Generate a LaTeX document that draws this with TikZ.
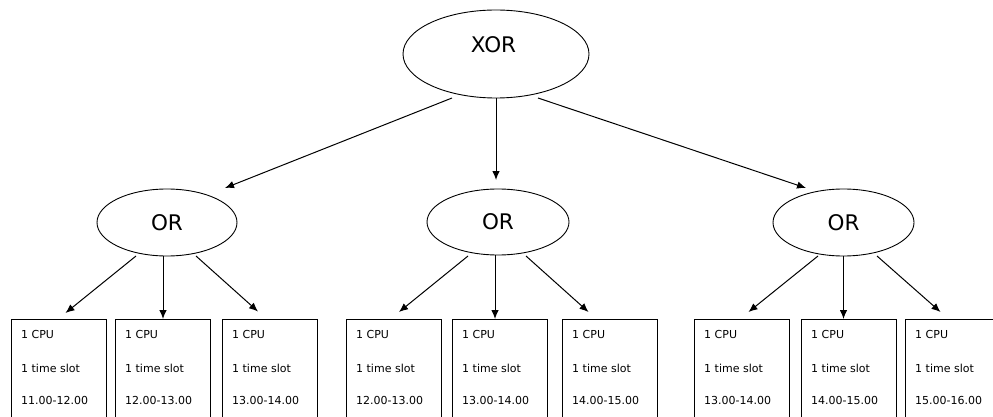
\documentclass[tikz,border=0pt]{standalone}
\usepackage{fontspec}
\setmainfont{DejaVu Sans}
\usetikzlibrary{arrows.meta,shapes.geometric}
\begin{document}
\begin{tikzpicture}[x=1pt,y=1pt,
  oval/.style={draw, ellipse, line width=0.9pt, inner sep=0pt, font=\fontsize{21.5}{24}\selectfont},
  ovaltext/.style={inner sep=0pt, font=\fontsize{21.5}{24}\selectfont},
  slotbox/.style={draw, rectangle, line width=1pt, minimum width=95pt, minimum height=111pt, inner sep=0pt, anchor=north west},
  slottext/.style={anchor=base west, inner sep=0pt, font=\fontsize{11}{13}\selectfont},
  arr/.style={-{Latex[length=9pt,width=7.5pt]}, line width=1pt}
]
\useasboundingbox (0,0) rectangle (993,-417);
\clip (0,0) rectangle (993,-417);

% top ellipse
\node[oval, minimum width=186pt, minimum height=88pt] (xor) at (496,-54) {};
\node[ovaltext] (xorlabel) at (493.5,-45) {XOR};

% OR ellipses
\node[oval, minimum width=140pt, minimum height=67pt] (or1) at (167,-222.5) {OR};
\node[oval, minimum width=142pt, minimum height=66pt] (or2) at (498,-222) {OR};
\node[oval, minimum width=141pt, minimum height=67pt] (or3) at (843.5,-222.5) {OR};

% boxes
\foreach \n/\x/\tm in {1/11/11.00-12.00, 2/115/12.00-13.00, 3/222/13.00-14.00,
                       4/346/12.00-13.00, 5/452/13.00-14.00, 6/562/14.00-15.00,
                       7/694/13.00-14.00, 8/801/14.00-15.00, 9/905/15.00-16.00} {
  \node[slotbox] (b\n) at (\x,-319) {};
  \node[slottext] (b\n cpu) at ([xshift=10,yshift=-19]b\n.north west) {1 CPU};
  \node[slottext] (b\n slot) at ([xshift=10,yshift=-53.5]b\n.north west) {1 time slot};
  \node[slottext] (b\n time) at ([xshift=10,yshift=-85]b\n.north west) {\tm};
}

% arrows from XOR
\draw[arr] ([xshift=-44,yshift=-44]xor.center) -- ([xshift=58,yshift=34.5]or1.center);
\draw[arr] (xor.south) -- ([xshift=-2,yshift=42]or2.center);
\draw[arr] ([xshift=42,yshift=-44]xor.center) -- ([xshift=-37.5,yshift=34.5]or3.center);

% arrows from OR 1
\draw[arr] ([xshift=-31,yshift=-33.5]or1.center) -- ([xshift=6.5,yshift=6]b1.north);
\draw[arr] (b2.north |- or1.south) -- (b2.north);
\draw[arr] ([xshift=29,yshift=-33.5]or1.center) -- ([xshift=-12,yshift=7.5]b3.north);

% arrows from OR 2
\coordinate (m5) at ([xshift=-5]b5.north);
\draw[arr] ([xshift=-30,yshift=-34]or2.center) -- ([xshift=5,yshift=7]b4.north);
\draw[arr] (m5 |- or2.south) -- (m5);
\draw[arr] ([xshift=28,yshift=-34]or2.center) -- ([xshift=-21.5,yshift=7]b6.north);

% arrows from OR 3
\coordinate (m8) at ([xshift=-5.5]b8.north);
\draw[arr] ([xshift=-25.5,yshift=-33.5]or3.center) -- ([xshift=6.5,yshift=7]b7.north);
\draw[arr] (m8 |- or3.south) -- (m8);
\draw[arr] ([xshift=33.5,yshift=-33.5]or3.center) -- ([xshift=-12.5,yshift=7]b9.north);
\end{tikzpicture}
\end{document}
